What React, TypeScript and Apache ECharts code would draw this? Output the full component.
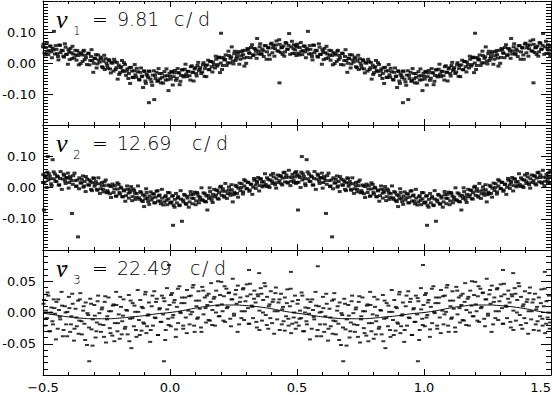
import React, { useEffect, useRef } from "react";
import * as echarts from "echarts";

// Labels of the three panels
const FREQ_INDEX = ["1", "2", "3"];
const FREQ_VALUE = ["9.81", "12.69", "22.49"];
const FREQ_UNIT = ["c", "/", "d"];

// Phase-folded residuals, one cycle each [phase, value]; plotted twice (phase and phase+1)
const P1A: [number, number][] = [
  [-.498,.061],[-.494,.032],[-.489,.050],[-.483,.038],[-.479,.027],
  [-.473,.055],[-.468,.036],[-.462,.047],[-.457,.102],[-.453,.029],
  [-.447,.044],[-.441,.021],[-.436,.058],[-.431,.033],
  [-.422,.040],[-.417,.019],[-.411,.051],[-.406,.028],[-.402,-.004],
  [-.397,.036],[-.392,.047],[-.386,.014],[-.381,.029],
  [-.373,.041],[-.368,.009],[-.362,.024],[-.357,.033],[-.352,-.002],
  [-.347,.026],[-.341,.038],[-.336,.011],[-.331,.017],
  [-.322,.032],[-.317,-.006],[-.311,.021],[-.306,.008],[-.302,-.030],
  [-.297,.016],[-.292,.027],[-.286,-.003],[-.281,.010],
  [-.273,.019],[-.268,-.012],[-.262,.006],[-.257,-.021],[-.253,.014],
  [-.247,-.008],[-.241,.011],[-.236,-.019],[-.231,.002],
  [-.222,-.026],[-.217,.004],[-.211,-.015],[-.206,-.052],[-.202,-.007],
  [-.197,-.031],[-.192,-.012],[-.186,-.024],[-.181,.001],
  [-.173,-.040],[-.168,-.019],[-.162,-.034],[-.157,-.066],[-.153,-.014],
  [-.147,-.046],[-.141,-.025],[-.136,-.038],[-.131,-.017],
  [-.122,-.053],[-.117,-.030],[-.111,-.044],[-.106,-.079],[-.102,-.025],
  [-.097,-.058],[-.092,-.036],[-.086,-.047],[-.083,-.128],[-.081,-.027],
  [-.073,-.061],[-.068,-.039],[-.062,-.118],[-.057,-.050],[-.053,-.030],
  [-.047,-.057],[-.041,-.034],[-.036,-.064],[-.031,-.046],
  [-.022,-.028],[-.017,-.055],[-.011,-.041],[-.006,-.089],[-.002,-.033],
  [.003,-.052],[.008,-.029],[.014,-.044],[.019,-.024],
  [.027,-.049],[.032,-.031],[.038,-.070],[.043,-.040],[.047,-.022],
  [.053,-.045],[.058,-.020],[.064,-.036],[.069,-.027],
  [.077,-.041],[.082,-.012],[.088,-.030],[.093,-.058],[.097,-.019],
  [.103,-.034],[.108,-.008],[.114,-.025],[.119,-.015],
  [.127,-.029],[.132,.001],[.138,-.018],[.143,-.044],[.147,-.006],
  [.153,-.022],[.158,.005],[.164,-.012],[.169,.003],
  [.177,-.016],[.182,.012],[.188,-.005],[.193,.019],[.197,-.031],
  [.201,.096],[.203,.017],[.208,-.008],[.214,.010],[.219,.026],
  [.227,.001],[.232,.024],[.238,.015],[.243,.052],[.247,.006],
  [.253,.030],[.258,.008],[.264,.021],[.269,.037],
  [.277,.012],[.282,.036],[.288,.027],[.293,-.010],[.297,.041],
  [.303,.018],[.308,.043],[.314,.031],[.319,.050],
  [.327,.024],[.332,.047],[.338,.038],[.343,.079],[.347,.029],
  [.353,.052],[.358,.030],[.364,.045],[.369,.021],
  [.377,.056],[.382,.036],[.388,.048],[.393,.012],[.397,.061],
  [.403,.033],[.408,.057],[.414,.046],[.419,.071],
  [.427,.038],[.431,-.064],[.432,.060],[.438,.049],[.443,.028],[.447,.055],
  [.453,.036],[.458,.064],[.464,.045],[.469,.095],
  [.477,.052],[.482,.031],[.488,.059],[.493,.042],[.497,.024],
];
const P1B: [number, number][] = [
  [-.500,.052],[-.491,.026],[-.485,.066],[-.476,.040],[-.470,.054],[-.465,.017],[-.459,.042],[-.450,.056],
  [-.444,.030],[-.439,.010],[-.433,.057],[-.427,.041],[-.420,.022],[-.414,.062],[-.409,.028],[-.400,.043],
  [-.395,.011],[-.389,.033],[-.384,.054],[-.377,.017],[-.371,.026],[-.365,.040],[-.359,-.006],[-.350,.031],
  [-.344,.005],[-.339,.041],[-.333,.025],[-.327,-.005],[-.320,.030],[-.314,.008],[-.309,.043],[-.300,-.001],
  [-.295,.014],[-.289,-.016],[-.283,.026],[-.277,.003],[-.270,.014],[-.264,-.015],[-.259,.025],[-.250,.000],
  [-.245,-.017],[-.239,.008],[-.233,-.032],[-.227,-.001],[-.220,.012],[-.214,-.021],[-.209,.002],[-.200,-.037],
  [-.195,-.015],[-.189,.008],[-.183,-.028],[-.177,-.005],[-.170,-.026],[-.164,-.050],[-.159,-.015],[-.150,-.026],
  [-.145,-.047],[-.139,-.005],[-.133,-.046],[-.127,-.028],[-.120,-.055],[-.114,-.016],[-.109,-.042],[-.100,-.028],
  [-.095,-.066],[-.089,-.041],[-.083,-.026],[-.077,-.052],[-.070,-.072],[-.064,-.025],[-.059,-.040],[-.050,-.059],
  [-.045,-.018],[-.039,-.051],[-.033,-.034],[-.027,-.065],[-.020,-.042],[-.014,-.019],[-.009,-.054],[.000,-.043],
  [.005,-.027],[.011,-.071],[.017,-.032],[.023,-.056],[.030,-.018],[.036,-.032],[.041,-.059],[.050,-.022],
  [.055,-.041],[.061,-.004],[.067,-.044],[.073,-.027],[.080,-.055],[.086,-.009],[.091,-.030],[.100,-.015],
  [.105,-.042],[.111,.002],[.117,-.020],[.123,-.034],[.130,-.006],[.136,-.043],[.141,-.008],[.150,.009],
  [.155,-.021],[.161,.005],[.167,-.029],[.173,-.005],[.180,.022],[.186,-.010],[.191,.017],[.200,.000],
  [.205,-.021],[.211,.017],[.217,.011],[.223,-.008],[.230,.038],[.236,.000],[.241,.020],[.250,-.003],
  [.255,.038],[.261,.015],[.267,.031],[.273,-.004],[.280,.023],[.286,.040],[.291,.016],[.300,-.001],
  [.305,.047],[.311,.033],[.317,.017],[.323,.059],[.330,.027],[.336,.045],[.341,.015],[.350,.039],
  [.355,.062],[.361,.028],[.367,.039],[.373,.056],[.380,.012],[.386,.050],[.391,.026],[.400,.064],
  [.405,.049],[.411,.022],[.417,.058],[.423,.039],[.430,.075],[.436,.034],[.441,.050],[.450,.022],
  [.455,.066],[.461,.044],[.467,.057],[.473,.028],[.480,.070],[.486,.046],[.491,.031],[.495,.056],
];

const P2A: [number, number][] = [
  [-.499,.041],[-.496,-.072],[-.494,.017],[-.489,.032],[-.483,.049],[-.481,.099],[-.479,.024],
  [-.473,.036],[-.468,.012],[-.462,.089],[-.457,.028],[-.453,.043],
  [-.447,.019],[-.441,.034],[-.436,.008],[-.431,.051],
  [-.422,.027],[-.417,.039],[-.411,.013],[-.406,.030],[-.402,.046],
  [-.397,.016],[-.392,.029],[-.386,-.083],[-.381,.038],
  [-.373,.022],[-.368,.005],[-.362,-.158],[-.357,.031],[-.352,.014],
  [-.347,.026],[-.341,.001],[-.336,.019],[-.331,.035],
  [-.322,.009],[-.317,.024],[-.311,-.006],[-.306,.015],[-.302,.031],
  [-.297,.004],[-.292,.019],[-.286,-.009],[-.281,.012],
  [-.273,-.004],[-.268,.016],[-.262,-.014],[-.257,.006],[-.253,.024],
  [-.247,-.010],[-.241,.008],[-.236,-.020],[-.231,.003],
  [-.222,-.016],[-.217,.006],[-.211,-.027],[-.206,-.005],[-.202,.010],
  [-.197,-.021],[-.192,-.002],[-.186,-.030],[-.181,-.011],
  [-.173,-.026],[-.168,-.006],[-.162,-.034],[-.157,-.015],[-.153,.003],
  [-.147,-.029],[-.141,-.010],[-.136,-.038],[-.131,-.019],
  [-.122,-.033],[-.117,-.013],[-.111,-.042],[-.106,-.024],[-.102,-.061],
  [-.097,-.036],[-.092,-.016],[-.086,-.045],[-.081,-.027],
  [-.073,-.040],[-.068,-.020],[-.062,-.049],[-.057,-.031],[-.053,-.012],
  [-.047,-.043],[-.041,-.024],[-.036,-.052],[-.031,-.034],
  [-.022,-.046],[-.017,-.026],[-.011,-.055],[-.006,-.036],[-.002,-.017],
  [.003,-.047],[.008,-.028],[.012,-.121],[.014,-.057],[.019,-.038],
  [.027,-.049],[.032,-.029],[.038,-.058],[.043,-.037],[.047,-.108],
  [.053,-.046],[.058,-.025],[.064,-.054],[.069,-.034],
  [.077,-.046],[.082,-.023],[.088,-.052],[.093,-.035],[.097,-.015],
  [.103,-.043],[.108,-.020],[.114,-.049],[.119,-.031],
  [.127,-.039],[.132,-.017],[.138,-.045],[.143,-.027],[.147,-.072],
  [.153,-.035],[.158,-.013],[.164,-.040],[.169,-.022],
  [.177,-.030],[.182,-.008],[.188,-.036],[.193,-.017],[.197,.001],
  [.203,-.025],[.208,-.004],[.214,-.031],[.219,-.012],
  [.227,-.020],[.232,.002],[.238,-.025],[.243,-.007],[.247,-.046],
  [.253,-.015],[.258,.007],[.264,-.019],[.269,-.002],
  [.277,-.010],[.282,.012],[.288,-.014],[.293,.005],[.297,.021],
  [.303,-.004],[.308,.017],[.314,-.008],[.319,.010],
  [.327,.001],[.332,.023],[.338,-.003],[.343,.015],[.347,.032],
  [.353,.006],[.358,.027],[.364,.002],[.369,.019],
  [.377,.010],[.382,.031],[.388,.005],[.393,.024],[.397,.040],
  [.403,.013],[.408,.034],[.414,.009],[.419,.028],
  [.427,.016],[.432,.038],[.438,.012],[.443,.030],[.447,.047],
  [.453,.018],[.458,.040],[.464,.014],[.469,.033],
  [.477,.020],[.482,.042],[.488,.016],[.493,.034],[.497,.051],
];
const P2B: [number, number][] = [
  [-.500,.016],[-.492,.037],[-.486,.000],[-.477,.044],[-.471,.028],[-.466,.006],[-.458,.050],[-.451,.020],
  [-.445,.037],[-.438,.008],[-.433,.029],[-.426,-.006],[-.419,.043],[-.413,.021],[-.408,.032],[-.399,-.002],
  [-.394,.035],[-.388,.022],[-.383,.010],[-.376,.046],[-.370,.003],[-.364,.024],[-.358,-.004],[-.349,.015],
  [-.343,.037],[-.338,.005],[-.332,-.013],[-.326,.027],[-.319,.007],[-.313,.019],[-.307,-.010],[-.299,.029],
  [-.294,.011],[-.288,-.006],[-.282,.031],[-.276,-.019],[-.269,.006],[-.263,-.006],[-.258,.018],[-.249,-.017],
  [-.244,-.015],[-.238,.005],[-.232,-.032],[-.226,.011],[-.219,-.005],[-.213,-.028],[-.207,.015],[-.199,-.016],
  [-.194,.001],[-.188,-.029],[-.182,-.008],[-.176,-.044],[-.169,.005],[-.163,-.018],[-.158,-.007],[-.149,-.042],
  [-.144,-.005],[-.138,-.018],[-.132,-.031],[-.126,.005],[-.119,-.038],[-.113,-.017],[-.107,-.045],[-.099,-.026],
  [-.094,-.004],[-.088,-.035],[-.082,-.054],[-.076,-.014],[-.069,-.033],[-.063,-.021],[-.058,-.049],[-.049,-.010],
  [-.044,-.027],[-.038,-.044],[-.032,-.006],[-.026,-.056],[-.019,-.030],[-.013,-.041],[-.008,-.016],[.001,-.050],
  [.006,-.047],[.012,-.026],[.018,-.063],[.024,-.019],[.031,-.034],[.037,-.056],[.042,-.010],[.051,-.040],
  [.056,-.022],[.062,-.051],[.068,-.028],[.074,-.063],[.081,-.013],[.087,-.034],[.092,-.022],[.101,-.055],
  [.106,-.016],[.112,-.028],[.118,-.039],[.124,-.001],[.131,-.042],[.137,-.020],[.142,-.046],[.151,-.025],
  [.156,-.001],[.162,-.031],[.168,-.048],[.174,-.006],[.181,-.024],[.187,-.010],[.192,-.037],[.201,.004],
  [.206,-.012],[.212,-.027],[.218,.013],[.224,-.035],[.231,-.008],[.237,-.017],[.242,.009],[.251,-.023],
  [.256,-.019],[.262,.003],[.268,-.031],[.274,.014],[.281,.000],[.287,-.021],[.292,.025],[.301,-.003],
  [.306,.016],[.312,-.012],[.318,.011],[.324,-.022],[.331,.029],[.337,.008],[.342,.021],[.351,-.011],
  [.356,.028],[.362,.017],[.368,.006],[.374,.044],[.381,.003],[.387,.026],[.392,.000],[.401,.021],
  [.406,.045],[.412,.015],[.418,-.002],[.424,.040],[.431,.022],[.437,.036],[.442,.008],[.451,.049],
  [.456,.032],[.462,.017],[.468,.055],[.474,.006],[.481,.032],[.487,.022],[.492,.047],[.496,.013],
];

const P3A: [number, number][] = [
  [-.498,.014],[-.493,-.021],[-.488,.003],[-.484,-.009],[-.479,.027],
  [-.472,-.030],[-.467,.008],[-.463,-.014],[-.458,.021],[-.453,-.002],
  [-.447,.017],[-.442,-.026],[-.437,.004],[-.432,-.011],[-.427,.033],
  [-.422,-.038],[-.418,.074],[-.414,.010],[-.409,-.019],[-.404,.001],
  [-.398,.025],[-.393,-.031],[-.388,-.006],[-.383,.014],[-.378,-.045],
  [-.372,.006],[-.367,-.022],[-.362,.019],[-.357,-.013],[-.353,.031],
  [-.347,-.035],[-.342,.003],[-.337,-.018],[-.332,.016],[-.327,-.052],
  [-.322,-.004],[-.318,-.078],[-.314,.022],[-.309,-.027],[-.304,-.011],
  [-.298,.012],[-.293,-.040],[-.288,-.016],[-.283,.027],[-.278,-.001],
  [-.272,-.031],[-.267,.008],[-.262,-.020],[-.257,.017],[-.252,-.048],
  [-.247,-.006],[-.242,.024],[-.237,-.025],[-.232,.002],[-.227,-.037],
  [-.222,.013],[-.217,-.017],[-.212,.033],[-.207,-.030],[-.202,-.003],
  [-.198,-.042],[-.193,.009],[-.188,-.014],[-.183,.021],[-.178,-.026],
  [-.172,.004],[-.167,-.035],[-.162,.028],[-.157,-.010],[-.152,-.057],
  [-.147,.015],[-.142,-.022],[-.137,.001],[-.132,-.039],[-.127,.036],
  [-.122,-.012],[-.117,.020],[-.112,-.029],[-.107,.007],[-.102,-.018],
  [-.098,.029],[-.093,-.033],[-.088,-.005],[-.083,.016],[-.078,-.047],
  [-.072,.010],[-.067,-.021],[-.062,.034],[-.057,-.009],[-.052,.022],
  [-.047,-.036],[-.042,.005],[-.037,-.015],[-.032,.027],[-.027,-.003],
  [-.024,-.078],[-.022,.018],[-.017,-.028],[-.012,.039],[-.007,-.010],[-.004,.076],[-.002,.012],
  [.003,-.022],[.008,.031],[.013,-.004],[.018,.020],[.023,-.039],
  [.027,.009],[.032,-.017],[.037,.042],[.042,-.001],[.047,.024],
  [.052,-.026],[.057,.015],[.062,-.008],[.067,.036],[.072,.003],
  [.077,-.019],[.082,.027],[.087,.001],[.092,.044],[.097,-.031],
  [.102,.019],[.107,-.010],[.112,.034],[.117,.006],[.122,-.024],
  [.127,.041],[.132,-.003],[.137,.024],[.142,-.016],[.147,.012],
  [.152,.030],[.157,-.013],[.162,.047],[.167,.004],[.172,.022],
  [.177,-.021],[.182,.035],[.187,.011],[.192,-.006],[.197,.028],
  [.202,.049],[.207,.002],[.212,.026],[.217,-.015],[.222,.038],
  [.227,.009],[.232,.032],[.237,-.010],[.242,.021],[.247,.054],
  [.252,-.005],[.257,.029],[.262,.014],[.267,.043],[.272,-.019],
  [.277,.024],[.282,.002],[.287,.037],[.292,-.012],[.297,.018],
  [.302,.045],[.307,.007],[.311,.068],[.312,-.018],[.317,.029],[.322,.011],
  [.327,-.009],[.332,.035],[.337,.016],[.342,-.024],[.347,.026],
  [.351,.063],[.352,.003],[.357,.039],[.362,-.013],[.367,.020],[.372,.047],
  [.377,-.004],[.382,.025],[.387,-.026],[.392,.013],[.397,.034],
  [.402,-.017],[.407,.021],[.412,.002],[.417,.040],[.422,-.011],
  [.427,.016],[.432,-.028],[.437,.030],[.442,.005],[.447,-.014],
  [.452,.024],[.457,-.006],[.462,.037],[.467,-.021],[.472,.010],
  [.476,.065],[.477,-.033],[.482,.018],[.487,-.008],[.492,.027],[.497,-.016],
];
const P3B: [number, number][] = [
  [-.496,.020],[-.490,-.010],[-.482,.032],[-.476,-.030],[-.469,.000],[-.461,-.019],[-.455,.007],[-.449,-.043],
  [-.440,.021],[-.434,-.007],[-.425,.011],[-.419,-.028],[-.411,.000],[-.405,-.038],[-.396,.007],[-.390,-.019],
  [-.385,.030],[-.376,-.026],[-.369,-.008],[-.360,-.034],[-.355,.021],[-.348,-.014],[-.340,.010],[-.334,-.044],
  [-.325,-.001],[-.319,-.024],[-.311,.014],[-.305,-.053],[-.296,-.005],[-.290,-.030],[-.285,.018],[-.276,-.019],
  [-.269,.005],[-.260,-.039],[-.255,.026],[-.248,-.011],[-.240,.002],[-.234,-.033],[-.225,.011],[-.219,-.046],
  [-.211,.012],[-.205,-.017],[-.196,.025],[-.190,-.035],[-.185,-.005],[-.176,-.023],[-.169,.003],[-.160,-.046],
  [-.155,.019],[-.148,-.009],[-.140,.011],[-.134,-.028],[-.125,.001],[-.119,-.036],[-.111,.009],[-.105,-.016],
  [-.096,.033],[-.090,-.022],[-.085,-.003],[-.076,-.028],[-.069,.027],[-.060,-.008],[-.055,.017],[-.048,-.036],
  [-.040,.007],[-.034,-.015],[-.025,.023],[-.019,-.044],[-.011,.005],[-.005,-.020],[.004,.028],[.010,-.008],
  [.015,.016],[.024,-.027],[.031,.038],[.040,.001],[.045,.015],[.052,-.021],[.060,.024],[.066,-.033],
  [.075,.026],[.081,-.003],[.089,.040],[.095,-.021],[.104,.010],[.110,-.008],[.115,.019],[.124,-.031],
  [.131,.035],[.140,.007],[.145,.027],[.152,-.012],[.160,.017],[.166,-.020],[.175,.025],[.181,.000],
  [.189,.050],[.195,-.006],[.204,.013],[.210,-.013],[.215,.042],[.224,.007],[.231,.031],[.240,-.022],
  [.245,.021],[.252,-.002],[.260,.036],[.266,-.031],[.275,.017],[.281,-.009],[.289,.039],[.295,.002],
  [.304,.026],[.310,-.018],[.315,.046],[.324,.009],[.331,.022],[.340,-.015],[.345,.029],[.352,-.028],
  [.360,.030],[.366,.000],[.375,.042],[.381,-.020],[.389,.010],[.395,-.009],[.404,.017],[.410,-.034],
  [.415,.031],[.424,.002],[.431,.021],[.440,-.019],[.445,.009],[.452,-.029],[.460,.015],[.466,-.010],
  [.475,.038],[.481,-.018],[.489,.000],[.495,-.026],
];

// Fitted curve of panel 3, one cycle
const FIT3_PHASE = [-0.5,-0.45,-0.4,-0.35,-0.3,-0.25,-0.2,-0.15,-0.1,-0.05,0,0.05,0.1,0.15,0.2,0.25,0.3,0.35,0.4,0.45,0.5];
const FIT3_VALUE = [-.001,-.004,-.007,-.009,-.010,-.010,-.009,-.007,-.005,-.002,.000,.003,.007,.010,.012,.012,.011,.009,.006,.002,-.001];

// Axis ranges
const X_MIN = -0.5, X_MAX = 1.5, X_STEP = 0.5;
const Y_RANGES = [
  { min: -0.2, max: 0.2, step: 0.1, minor: 10 },
  { min: -0.2, max: 0.2, step: 0.1, minor: 10 },
  { min: -0.1, max: 0.1, step: 0.05, minor: 5 },
];

const FONT = "DejaVu Sans";
const PANEL_TOP = [1, 125, 250];
const PANEL_H = [124, 125, 125];

function fold(points: [number, number][]): [number, number][] {
  return points.concat(points.map(([p, v]) => [p + 1, v] as [number, number]));
}

export default function App() {
  const ref = useRef<HTMLDivElement>(null);
  useEffect(() => {
    if (!ref.current) return;
    const chart = echarts.init(ref.current, undefined, { renderer: "svg" });

    const grids = PANEL_TOP.map((t, i) => ({
      left: 43, right: 1, top: t, height: PANEL_H[i], containLabel: false, outerBoundsMode: "none",
    }));
    const xAxes: any[] = [];
    const yAxes: any[] = [];
    for (let i = 0; i < 3; i++) {
      for (const pos of ["bottom", "top"]) {
        const dashed = i === 0 || (i === 1 && pos === "top");
        xAxes.push({
          type: "value", gridIndex: i, position: pos,
          min: X_MIN, max: X_MAX, interval: X_STEP,
          splitLine: { show: false },
          axisLine: { show: true, onZero: false, lineStyle: { color: "#000", width: 1, type: dashed ? [3, 1] : "solid" } },
          axisTick: { show: true, inside: true, length: 6, lineStyle: { color: "#000" } },
          minorTick: { show: true, splitNumber: 5, length: 3, lineStyle: { color: "#000" } },
          axisLabel: {
            show: i === 2 && pos === "bottom", margin: 6, fontSize: 13, lineHeight: 13, fontFamily: FONT, color: "#000",
            hideOverlap: false, alignMaxLabel: "right",
            formatter: (v: number) => v.toFixed(1).replace("-", "\u2212"),
          },
        });
      }
      const r = Y_RANGES[i];
      for (const pos of ["left", "right"]) {
        yAxes.push({
          type: "value", gridIndex: i, position: pos,
          min: r.min, max: r.max, interval: r.step,
          splitLine: { show: false },
          axisLine: { show: true, onZero: false, lineStyle: { color: "#000", width: 1 } },
          axisTick: { show: true, inside: true, length: 10, lineStyle: { color: "#000" } },
          minorTick: { show: true, splitNumber: r.minor, length: 5, lineStyle: { color: "#000" } },
          axisLabel: {
            show: pos === "left", showMinLabel: false, showMaxLabel: false,
            margin: 7, fontSize: 13, fontFamily: FONT, color: "#000",
            formatter: (v: number) => v.toFixed(2),
          },
        });
      }
    }

    const pts = [P1A.concat(P1B), P2A.concat(P2B), P3A.concat(P3B)];
    const series: any[] = pts.map((p, i) => ({
      type: "scatter", xAxisIndex: 2 * i, yAxisIndex: 2 * i,
      data: fold(p), symbol: "rect", symbolSize: i === 2 ? [4, 2] : [4, 3],
      itemStyle: { color: "#000" }, silent: true,
    }));
    const fit: [number, number][] = FIT3_PHASE.map((p, k) => [p, FIT3_VALUE[k]]);
    const fitFolded = fit.concat(fit.filter(([p]) => p > X_MIN).map(([p, v]) => [p + 1, v] as [number, number]));
    series.push({
      type: "line", xAxisIndex: 4, yAxisIndex: 4, data: fitFolded, showSymbol: false, smooth: true,
      lineStyle: { color: "#000", width: 1 }, silent: true, z: 3,
    });

    const unitPos = [[174, 186, 198], [192, 204, 216], [190, 202, 214]];
    const graphic: any[] = [];
    PANEL_TOP.forEach((t, i) => {
      graphic.push({ type: "text", left: 56, top: t + 5, style: { text: "\u03bd", fontSize: 26, fontStyle: "italic", fontFamily: "Liberation Serif", fill: "#000" } });
      graphic.push({ type: "text", left: 73, top: t + 24, style: { text: FREQ_INDEX[i], fontSize: 12, fontFamily: FONT, fontWeight: 200, fill: "#000" } });
      graphic.push({ type: "text", left: 92, top: t + 8, style: { text: "=", fontSize: 19, fontFamily: FONT, fontWeight: 200, fill: "#000" } });
      graphic.push({ type: "text", left: 117, top: t + 8, style: { text: FREQ_VALUE[i], fontSize: 19, fontFamily: FONT, fontWeight: 200, fill: "#000" } });
      FREQ_UNIT.forEach((u, k) => {
        graphic.push({ type: "text", left: unitPos[i][k], top: t + 8, style: { text: u, fontSize: 19, fontFamily: FONT, fontWeight: 200, fill: "#000" } });
      });
    });

    chart.setOption({
      animation: false,
      backgroundColor: "#fff",
      grid: grids,
      xAxis: xAxes,
      yAxis: yAxes,
      series,
      graphic,
    });
    return () => chart.dispose();
  }, []);
  return <div ref={ref} style={{ position: "fixed", left: 0, top: 0, width: 552, height: 395 }} />;
}
